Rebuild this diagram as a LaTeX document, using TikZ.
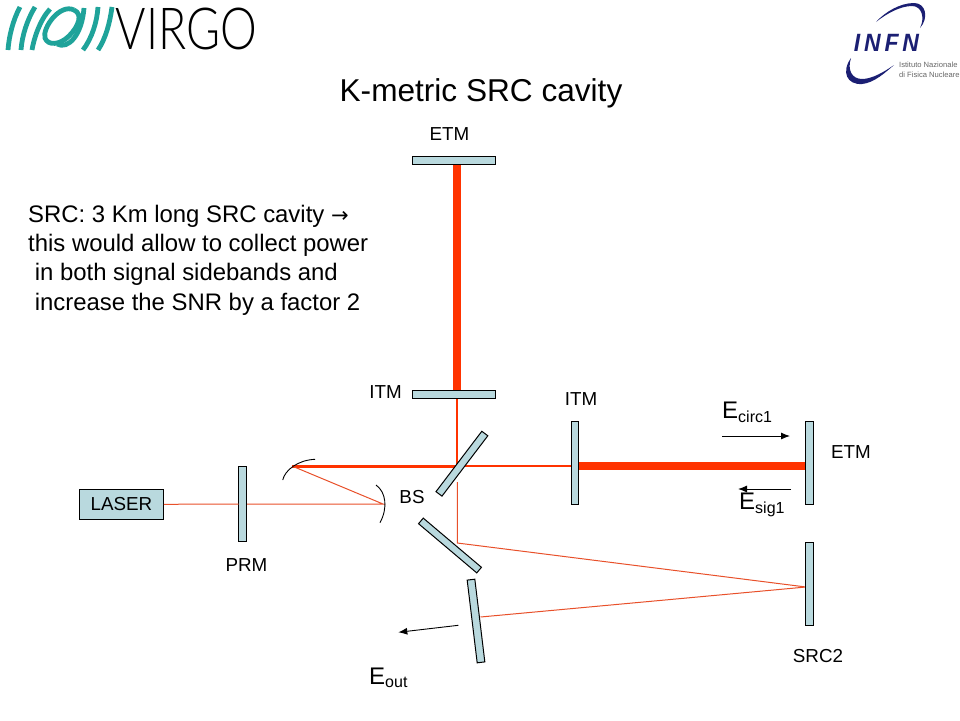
\documentclass[tikz,border=0pt]{standalone}
\usepackage{fontspec}
\usetikzlibrary{arrows.meta}
\setmainfont{Liberation Sans}
\newfontfamily\logofont{Lato Light}
\definecolor{mirrorfill}{HTML}{B9D9DE}
\definecolor{beam}{HTML}{FF3300}
\definecolor{thinbeam}{HTML}{E8502A}
\definecolor{virgoteal}{HTML}{1FA39A}
\definecolor{infnblue}{HTML}{1B1F73}
\tikzset{
  mirror/.style={draw=black,line width=1pt,fill=mirrorfill,inner sep=0pt,outer sep=0pt,rectangle},
  thickbeam/.style={draw=beam,line width=7.5pt},
  midbeam/.style={draw=beam,line width=2pt},
  thinray/.style={draw=thinbeam,line width=1pt},
  curved/.style={draw=black,line width=0.9pt},
  pointer/.style={draw=black,line width=0.9pt,-{Latex[length=9pt,width=7pt]}},
  lab/.style={font=\fontsize{18.8}{20}\selectfont,inner sep=0pt},
  elab/.style={font=\fontsize{24}{28}\selectfont,inner sep=0pt,anchor=base west},
  swirl/.style={draw=virgoteal,line width=4.8pt},
  swoosh/.style={fill=infnblue,draw=none}
}
\begin{document}
\begin{tikzpicture}[x=1pt,y=-1pt]
\useasboundingbox (0,0) rectangle (960,720);
% logos
\draw[swirl] (20,7) .. controls (13,20) and (9,36) .. (8,50);
\draw[swirl] (35,7) .. controls (27,20) and (22,36) .. (21,50);
\draw[swirl] (50,9) .. controls (40,20) and (34,38) .. (32,50);
\draw[swirl] (74,10) .. controls (60,3) and (42,28) .. (45,38) .. controls (48,46) and (60,45) .. (69,36) .. controls (79,26) and (83,14) .. (74,10);
\draw[swirl] (57,44) .. controls (68,50) and (82,35) .. (84,8);
\draw[swirl] (98,7) .. controls (97,22) and (92,38) .. (83,50);
\draw[swirl] (112,7) .. controls (110,22) and (106,38) .. (98,50);
\node[font=\logofont\fontsize{58}{60}\selectfont,text=black,inner sep=0pt,xscale=0.8] (virgo) at (186.5,29) {VIRGO};
\fill[swoosh] (876,22) .. controls (885,12) and (900,3) .. (914,3) .. controls (926,3) and (929,18) .. (920,28) .. controls (925,18) and (922,6) .. (912,6) .. controls (900,6) and (886,14) .. (876,22);
\node[font=\bfseries\itshape\fontsize{25}{28}\selectfont,text=infnblue,inner sep=0pt,xscale=0.92] (infn) at (886.5,43) {I\,N\,F\,N};
\fill[swoosh] (851,58) .. controls (841,72) and (847,85) .. (862,84) .. controls (874,83) and (886,72) .. (894,65) .. controls (884,72) and (872,79) .. (862,79) .. controls (852,79) and (847,70) .. (851,58);
\node[font=\fontsize{7.6}{9.6}\selectfont,text=black!60,align=left,inner sep=0pt,anchor=west] (inst) at (899,69.5) {Istituto Nazionale\\di Fisica Nucleare};
% title and text
\node[font=\fontsize{31.6}{36}\selectfont,inner sep=0pt] (title) at (481,93) {K-metric SRC cavity};
\node[font=\fontsize{23.9}{29.2}\selectfont,align=left,inner sep=0pt,anchor=north west] (desc) at (28,205) {SRC: 3 Km long SRC cavity {\fontspec{DejaVu Sans}\fontsize{21}{20}\selectfont →}\\this would allow to collect power\\\ in both signal sidebands and\\\ increase the SNR by a factor 2};
% named beam points
\coordinate (pA) at (457,164);
\coordinate (pB) at (457,390);
\coordinate (pC) at (457,398);
\coordinate (pD) at (457,466);
\coordinate (pE) at (292,466);
\coordinate (pF) at (572,466);
\coordinate (pG) at (579,466);
\coordinate (pH) at (806,466);
\coordinate (pI) at (383,504);
\coordinate (pJ) at (238.5,504);
\coordinate (pK) at (246.5,504);
\coordinate (pL) at (457.3,482);
\coordinate (pM) at (457.3,543);
\coordinate (pN) at (806,587);
\coordinate (pO) at (480.5,617);
% beams
\draw[thickbeam] (pA) -- (pB);
\draw[thickbeam] (pG) -- (pH);
\draw[midbeam] (pC) -- (pD);
\draw[draw=beam,line width=3pt] (pE) -- (pD);
\draw[midbeam] (pD) -- (pF);
\draw[thinray] (pJ) -- (pK);
\draw[thinray] (pK) -- (pI) -- (pE);
\draw[thinray] (pL) -- (pM) -- (pN) -- (pO);
% mirrors
\node[mirror,minimum width=83pt,minimum height=8pt] (etmN) at (454,160) {};
\node[mirror,minimum width=83pt,minimum height=8pt] (itmN) at (454,394) {};
\node[mirror,minimum width=7.5pt,minimum height=83pt] (itmE) at (575,463) {};
\node[mirror,minimum width=7.5pt,minimum height=83pt] (etmE) at (809.5,463) {};
\node[mirror,minimum width=7.5pt,minimum height=83pt] (src2) at (809.5,584) {};
\node[mirror,minimum width=8.3pt,minimum height=75pt] (prm) at (242.5,504) {};
\node[mirror,minimum width=84.5pt,minimum height=30pt,font=\fontsize{18.8}{20}\selectfont] (laser) at (121.5,504.3) {LASER};
\node[mirror,minimum width=75.8pt,minimum height=7.5pt,rotate=52.8] (bs) at (461.9,463.7) {};
\node[mirror,minimum width=76.2pt,minimum height=7.3pt,rotate=-40.2] (src0) at (450,545.5) {};
\node[mirror,minimum width=83.3pt,minimum height=7.7pt,rotate=-83.1] (src1) at (476,621) {};
\draw[thinray] (laser.east) -- (pJ);
% curved mirrors
\draw[curved] (282.7,480) .. controls (285,470) and (298,460) .. (315,459.3);
\draw[curved] (376,485) .. controls (386,492) and (388,508) .. (380,522.7);
% arrows
\coordinate (a1) at (722,436);
\coordinate (a2) at (790,436);
\coordinate (b1) at (791,489);
\coordinate (b2) at (738,489);
\coordinate (c1) at (458.3,625.3);
\coordinate (c2) at (398.3,632.3);
\draw[pointer] (a1) -- (a2);
\draw[pointer] (b1) -- (b2);
\draw[pointer] (c1) -- (c2);
% labels
\node[lab] (lEtmN) at (449.5,134) {ETM};
\node[lab] (lItmN) at (385.5,392) {ITM};
\node[lab] (lItmE) at (581,399) {ITM};
\node[lab] (lEtmE) at (851,452) {ETM};
\node[lab] (lBs) at (412,497) {BS};
\node[lab] (lPrm) at (246.5,565) {PRM};
\node[lab] (lSrc2) at (818,656) {SRC2};
\node[elab] (eCirc) at (722,418.5) {E\textsubscript{\fontsize{16}{18}\selectfont circ1}};
\node[elab] (eSig) at (739,509.5) {E\textsubscript{\fontsize{16}{18}\selectfont sig1}};
\node[elab] (eOut) at (369,684) {E\textsubscript{\fontsize{16}{18}\selectfont out}};
\end{tikzpicture}
\end{document}
